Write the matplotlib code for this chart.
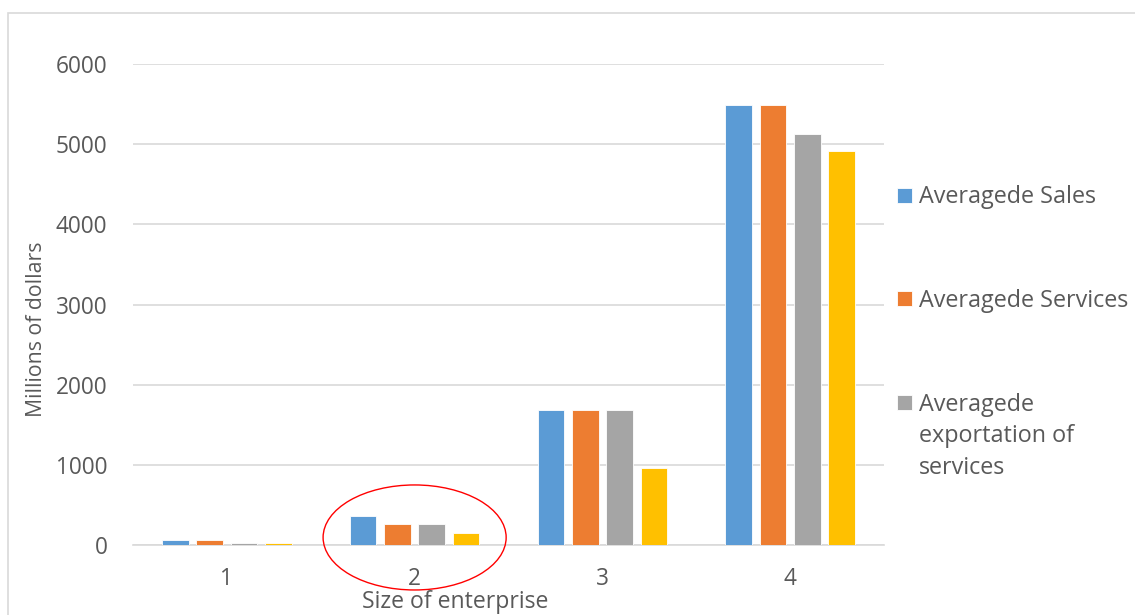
import matplotlib
matplotlib.use("Agg")
import matplotlib.pyplot as plt
from matplotlib.patches import Ellipse, Rectangle
import numpy as np

plt.rcParams['font.family'] = ['Open Sans', 'DejaVu Sans']

categories = ["1", "2", "3", "4"]
series_names = ["Averagede Sales", "Averagede Services",
                "Averagede", "_nolegend_"]
third_label_rest = "exportation of\nservices"
sales = [62, 357, 1683, 5485]
services = [62, 262, 1683, 5485]
exportation = [28, 262, 1683, 5123]
fourth = [28, 145, 955, 4915]
colors = ["#5B9BD5", "#ED7D31", "#A5A5A5", "#FFC000"]

data = [sales, services, exportation, fourth]
TXT = '#595959'

fig = plt.figure(figsize=(11.35, 6.15), dpi=100)
ax = fig.add_axes([133/1135, 70/615, 751/1135, 481/615])

x = np.arange(len(categories))
step = 0.183
width = 0.142
handles = []
for i, (vals, c, name) in enumerate(zip(data, colors, series_names)):
    b = ax.bar(x + (i - 1.5) * step, vals, width=width, color=c, label=name,
               edgecolor='white', linewidth=0.6, zorder=3)
    handles.append(b)

ax.set_xlim(-0.5, 3.5)
ax.set_ylim(0, 6000)
ax.set_yticks(range(0, 6001, 1000))
ax.set_xticks(x)
ax.set_xticklabels(categories)
ax.grid(axis='y', color='#d9d9d9', linewidth=1.2, zorder=0)
for s in ['top', 'right', 'left']:
    ax.spines[s].set_visible(False)
ax.spines['bottom'].set_color('#d9d9d9')
ax.spines['bottom'].set_linewidth(1.2)
ax.tick_params(axis='both', length=0, labelsize=16.3, colors=TXT)
ax.tick_params(axis='y', pad=18.5)
ax.tick_params(axis='x', pad=16)

ax.set_ylabel("Millions of dollars", fontsize=15.3, color=TXT)
ax.yaxis.set_label_coords((47 - 133) / 751, (545 - 329) / 481)
ax.set_xlabel("Size of enterprise", fontsize=16.6, color=TXT)
ax.xaxis.set_label_coords((455 - 133) / 751, -(602 - 545) / 481)
ax.xaxis.label.set_va('center')

leg = fig.legend(handles=handles[:3], labels=series_names[:3],
                 loc='upper left', bbox_to_anchor=(881/1135, 1 - 169/615),
                 frameon=False, fontsize=16.8, labelcolor=TXT,
                 handlelength=0.62, handleheight=0.62, handletextpad=0.3,
                 labelspacing=3.42, borderpad=0.2)

fig.text(919/1135, 1 - 474/615, third_label_rest, fontsize=16.8, color=TXT,
         ha='left', va='baseline', linespacing=1.44)

ell = Ellipse((1, 94), 0.975, 1310, fill=False, edgecolor='#ff0000',
              linewidth=1.0, clip_on=False, zorder=5)
ax.add_patch(ell)

border = Rectangle((8/1135, 1 - 620/615), 1.2, 607/615, transform=fig.transFigure,
                   fill=False, edgecolor='#d9d9d9', linewidth=1.2)
fig.patches.append(border)

fig.savefig("out.png", dpi=100)
